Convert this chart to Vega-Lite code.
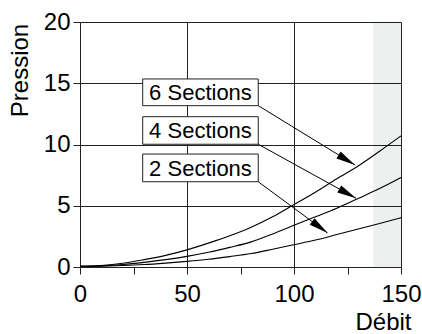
{
  "$schema": "https://vega.github.io/schema/vega-lite/v6.json",
  "autosize": "none",
  "width": 321,
  "height": 245,
  "padding": {"left": 80, "top": 22, "right": 21, "bottom": 67},
  "background": "white",
  "config": {
    "view": {"stroke": null},
    "font": "Liberation Sans",
    "axis": {
      "labelFont": "Liberation Sans",
      "titleFont": "Liberation Sans",
      "labelFontSize": 24,
      "titleFontSize": 24,
      "titleFontWeight": "normal",
      "labelColor": "#000",
      "titleColor": "#000",
      "domainColor": "#222",
      "tickColor": "#222",
      "gridColor": "#222",
      "domainWidth": 1,
      "tickWidth": 1,
      "gridWidth": 1,
      "tickSize": 7
    }
  },
  "datasets": {
    "curves": [
      {"debit": 0, "pression": 0.05, "serie": "6 Sections"},
      {"debit": 10, "pression": 0.12, "serie": "6 Sections"},
      {"debit": 20, "pression": 0.3, "serie": "6 Sections"},
      {"debit": 30, "pression": 0.6, "serie": "6 Sections"},
      {"debit": 40, "pression": 0.95, "serie": "6 Sections"},
      {"debit": 50, "pression": 1.4, "serie": "6 Sections"},
      {"debit": 60, "pression": 1.95, "serie": "6 Sections"},
      {"debit": 70, "pression": 2.55, "serie": "6 Sections"},
      {"debit": 80, "pression": 3.25, "serie": "6 Sections"},
      {"debit": 90, "pression": 4.1, "serie": "6 Sections"},
      {"debit": 100, "pression": 5.1, "serie": "6 Sections"},
      {"debit": 110, "pression": 6.1, "serie": "6 Sections"},
      {"debit": 120, "pression": 7.2, "serie": "6 Sections"},
      {"debit": 130, "pression": 8.25, "serie": "6 Sections"},
      {"debit": 140, "pression": 9.45, "serie": "6 Sections"},
      {"debit": 150, "pression": 10.7, "serie": "6 Sections"},
      {"debit": 0, "pression": 0.05, "serie": "4 Sections"},
      {"debit": 10, "pression": 0.09, "serie": "4 Sections"},
      {"debit": 20, "pression": 0.2, "serie": "4 Sections"},
      {"debit": 30, "pression": 0.38, "serie": "4 Sections"},
      {"debit": 40, "pression": 0.6, "serie": "4 Sections"},
      {"debit": 50, "pression": 0.87, "serie": "4 Sections"},
      {"debit": 60, "pression": 1.2, "serie": "4 Sections"},
      {"debit": 70, "pression": 1.6, "serie": "4 Sections"},
      {"debit": 80, "pression": 2.05, "serie": "4 Sections"},
      {"debit": 90, "pression": 2.7, "serie": "4 Sections"},
      {"debit": 100, "pression": 3.4, "serie": "4 Sections"},
      {"debit": 110, "pression": 4.1, "serie": "4 Sections"},
      {"debit": 120, "pression": 4.8, "serie": "4 Sections"},
      {"debit": 130, "pression": 5.6, "serie": "4 Sections"},
      {"debit": 140, "pression": 6.4, "serie": "4 Sections"},
      {"debit": 150, "pression": 7.3, "serie": "4 Sections"},
      {"debit": 0, "pression": 0.05, "serie": "2 Sections"},
      {"debit": 10, "pression": 0.07, "serie": "2 Sections"},
      {"debit": 20, "pression": 0.12, "serie": "2 Sections"},
      {"debit": 30, "pression": 0.2, "serie": "2 Sections"},
      {"debit": 40, "pression": 0.32, "serie": "2 Sections"},
      {"debit": 50, "pression": 0.46, "serie": "2 Sections"},
      {"debit": 60, "pression": 0.63, "serie": "2 Sections"},
      {"debit": 70, "pression": 0.85, "serie": "2 Sections"},
      {"debit": 80, "pression": 1.1, "serie": "2 Sections"},
      {"debit": 90, "pression": 1.45, "serie": "2 Sections"},
      {"debit": 100, "pression": 1.82, "serie": "2 Sections"},
      {"debit": 110, "pression": 2.2, "serie": "2 Sections"},
      {"debit": 120, "pression": 2.65, "serie": "2 Sections"},
      {"debit": 130, "pression": 3.1, "serie": "2 Sections"},
      {"debit": 140, "pression": 3.55, "serie": "2 Sections"},
      {"debit": 150, "pression": 4.03, "serie": "2 Sections"}
    ],
    "labels": [
      {"serie": "6 Sections", "x1": 29.3, "x2": 83.3, "yTop": 15.35, "yBottom": 13.17, "xMid": 56.3, "yText": 13.62, "xTip": 128.5, "yTip": 8.33},
      {"serie": "4 Sections", "x1": 29.3, "x2": 83.3, "yTop": 12.27, "yBottom": 10.02, "xMid": 56.3, "yText": 10.51, "xTip": 129.0, "yTip": 5.61},
      {"serie": "2 Sections", "x1": 29.3, "x2": 83.3, "yTop": 9.22, "yBottom": 6.96, "xMid": 56.3, "yText": 7.45, "xTip": 115.7, "yTip": 2.78}
    ],
    "band": [{"start": 137, "end": 150}]
  },
  "layer": [
    {
      "data": {"name": "band"},
      "mark": {"type": "rect", "fill": "#001e0f", "fillOpacity": 0.067},
      "encoding": {
        "x": {
          "field": "start", "type": "quantitative",
          "scale": {"domain": [0, 150], "nice": false},
          "axis": {
            "values": [0, 25, 50, 75, 100, 125, 150],
            "labelExpr": "datum.value % 50 === 0 ? datum.label : ''",
            "title": "Débit",
            "titleAlign": "right",
            "titleAnchor": null,
            "titleX": 331,
            "titleY": 62,
            "titleBaseline": "alphabetic",
            "labelPadding": 8,
            "labelFlush": false,
            "labelOverlap": false,
            "grid": true,
            "gridOpacity": {"condition": {"test": "datum.value % 50 === 0 && datum.value > 0", "value": 1}, "value": 0}
          }
        },
        "x2": {"field": "end"},
        "y": {"datum": 0, "type": "quantitative",
          "scale": {"domain": [0, 20], "nice": false},
          "axis": {
            "values": [0, 2.5, 5, 7.5, 10, 12.5, 15, 17.5, 20],
            "labelExpr": "datum.value % 5 === 0 ? datum.label : ''",
            "title": "Pression",
            "titleAngle": -90,
            "titleAlign": "center",
            "titleAnchor": null,
            "titleX": -53,
            "titleY": 48,
            "titleBaseline": "alphabetic",
            "labelPadding": 3,
            "labelFlush": false,
            "labelOverlap": false,
            "grid": true,
            "gridOpacity": {"condition": {"test": "datum.value % 5 === 0 && datum.value > 0", "value": 1}, "value": 0}
          }
        },
        "y2": {"datum": 20}
      }
    },
    {
      "data": {"name": "curves"},
      "mark": {"type": "line", "stroke": "#000", "strokeWidth": 1.1, "interpolate": "monotone"},
      "encoding": {
        "x": {"field": "debit", "type": "quantitative"},
        "y": {"field": "pression", "type": "quantitative"},
        "detail": {"field": "serie"}
      }
    },
    {
      "data": {"name": "labels"},
      "mark": {"type": "rect", "fill": "white", "stroke": "#222", "strokeWidth": 1},
      "encoding": {
        "x": {"field": "x1", "type": "quantitative"},
        "x2": {"field": "x2"},
        "y": {"field": "yTop", "type": "quantitative"},
        "y2": {"field": "yBottom"}
      }
    },
    {
      "data": {"name": "labels"},
      "mark": {"type": "text", "font": "Liberation Sans", "fontSize": 22, "color": "#000", "align": "center", "baseline": "alphabetic"},
      "encoding": {
        "x": {"field": "xMid", "type": "quantitative"},
        "y": {"field": "yText", "type": "quantitative"},
        "text": {"field": "serie"}
      }
    },
    {
      "data": {"name": "labels"},
      "mark": {"type": "rule", "stroke": "#000", "strokeWidth": 1},
      "encoding": {
        "x": {"field": "x2", "type": "quantitative"},
        "y": {"field": "yBottom", "type": "quantitative"},
        "x2": {"field": "xTip"},
        "y2": {"field": "yTip"}
      }
    },
    {
      "data": {"name": "labels"},
      "transform": [{"filter": "datum.serie === '6 Sections'"}],
      "mark": {"type": "point", "shape": "M0,0L-2,-0.42L-2,0.42Z", "filled": true, "color": "#000", "opacity": 1, "size": 369, "angle": 31},
      "encoding": {
        "x": {"field": "xTip", "type": "quantitative"},
        "y": {"field": "yTip", "type": "quantitative"}
      }
    },
    {
      "data": {"name": "labels"},
      "transform": [{"filter": "datum.serie === '4 Sections'"}],
      "mark": {"type": "point", "shape": "M0,0L-2,-0.42L-2,0.42Z", "filled": true, "color": "#000", "opacity": 1, "size": 369, "angle": 29},
      "encoding": {
        "x": {"field": "xTip", "type": "quantitative"},
        "y": {"field": "yTip", "type": "quantitative"}
      }
    },
    {
      "data": {"name": "labels"},
      "transform": [{"filter": "datum.serie === '2 Sections'"}],
      "mark": {"type": "point", "shape": "M0,0L-2,-0.42L-2,0.42Z", "filled": true, "color": "#000", "opacity": 1, "size": 369, "angle": 36.5},
      "encoding": {
        "x": {"field": "xTip", "type": "quantitative"},
        "y": {"field": "yTip", "type": "quantitative"}
      }
    }
  ]
}
